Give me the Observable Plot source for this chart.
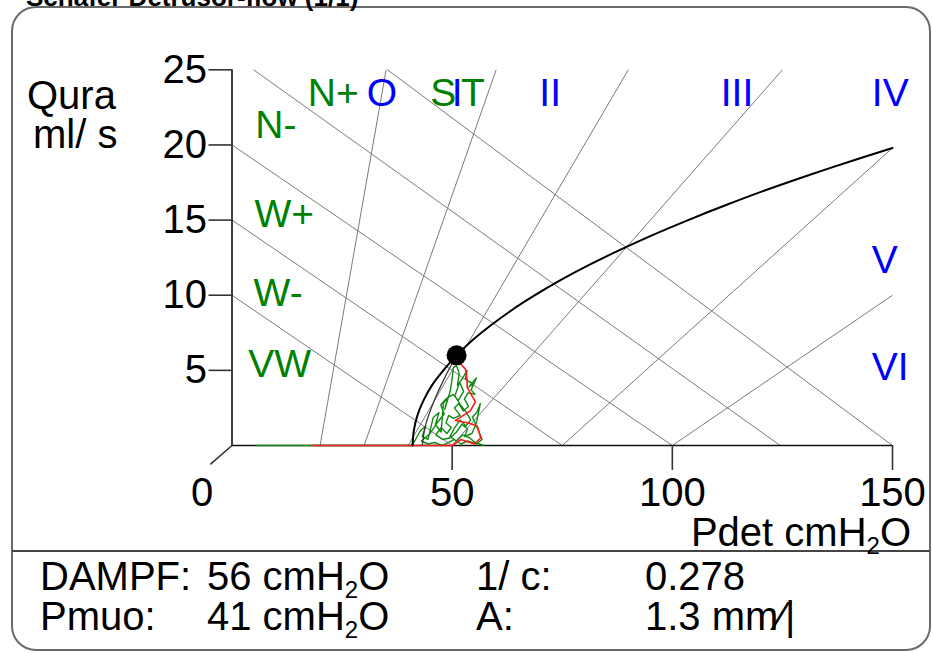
<!DOCTYPE html>
<html><head><meta charset="utf-8">
<script src="https://cdn.jsdelivr.net/npm/d3@7"></script>
<script src="https://cdn.jsdelivr.net/npm/@observablehq/plot@0.6"></script>
<style>
body{margin:0;background:#fff;}
#wrap{position:relative;width:933px;height:653px;overflow:hidden;}
</style></head>
<body><div id="wrap"></div>
<script>
// ---- data ----
const P_TICKS = [50, 100, 150];
const Q_TICKS = [5, 10, 15, 20, 25];

// contractility boundary lines (descending)
const contrP1 = [0, 0, 0, 4.9, 35.3];
const contrQ1 = [10, 15, 20, 25, 25];
const contrP2 = [50, 75, 100, 124.5, 150];
const contrQ2 = [0, 0, 0, 0, 0];

// obstruction grade boundary lines (ascending)
const obstrP1 = [20, 30, 40, 50, 75, 100];
const obstrQ1 = [0, 0, 0, 0, 0, 0];
const obstrP2 = [35, 60, 90, 125, 150, 150];
const obstrQ2 = [25, 25, 25, 25, 19.8, 10];

// PURR curve
const purrQ = [0, 1, 2, 3, 4, 5, 6, 7, 8, 9, 10, 11, 12, 13, 14, 15, 16, 17, 18, 19, 19.8];
const purrP = [41, 41.3, 42.1, 43.5, 45.4, 48.0, 51.0, 54.6, 58.8, 63.5, 68.8, 74.6, 81.0, 88.0, 95.5, 103.6, 112.2, 121.3, 131.1, 141.4, 150];

// inner line from the Qmax point
const linP = [51, 48.3, 45.8, 44.0, 43.2];
const linQ = [6, 4.5, 2.9, 1.4, 0];

// Qmax point
const qmaxP = [51];
const qmaxQ = [6];

// raw trace (green)
const greenP = [5.5,40.8,41.5,42.8,44,43.2,44.5,45.7,47,46.2,47.5,48.0,49,48.3,49.6,50,50.3,51,51.6,51.2,52.2,53.4,53,54.8,53.8,55.5,54.3,55.2,53.6,52.8,53.7,52.5,51.5,50.5,51.8,50.3,49.2,48.6,49.8,48.8,47.5,46.3,47.8,49.5,51,52.2,53.5,52.8,54.5,55.5,56.4,55.6,54.6,55.8,56.8,55.5,53.5,52,50.5,49.2,47.8,46,44.5,43,45,46.8,48.2,47.4,48.6,50.2,51.4,52.6,51.7,50.6,51.9,53.2,54.2,53.1,51.8,50.4,49.5,50.9,52.4,54,55.2,57.2];
const greenQ = [0,0,0.3,1.0,1.3,0.6,0.4,1.86,2.2,1.4,0.9,2.8,3.2,2.4,3.66,4.5,5.2,5.3,4.8,4.0,4.4,5.0,4.4,4.1,3.9,4.5,3.7,3.4,3.5,3.1,2.6,2.3,2.8,2.5,2.0,1.8,2.0,1.5,1.2,0.8,1.2,0.7,0.4,0.5,0.9,1.4,1.1,0.6,0.8,1.5,2.8,2.2,1.9,1.1,0.4,0.1,0.3,0.1,0.4,0.2,0,0.2,0.1,0.3,0.8,1.6,2.1,2.7,3.1,3.4,3.0,3.6,4.2,3.3,2.7,2.2,1.7,1.3,1.7,1.1,0.6,0.3,0.7,0.5,0.2,0];

// smoothed trace (red)
const redP = [18.3,50,52,55,56.5,56,55.7,53.7,50.7,52,54.1,55.3,54.1,53.4,53.4,53.2,53,51.8,51.2];
const redQ = [0,0,0.4,0.1,0.5,1.0,1.3,1.5,1.66,1.9,2.3,2.9,3.5,3.9,4.3,4.8,5.1,5.46,5.6];

// region labels
const greenLabels = ["VW", "W-", "W+", "N-", "N+", "S", "T"];
const greenLabP = [3.7, 4.9, 5.1, 5.3, 17.2, 45.0, 52.0];
const greenLabQ = [5.4, 10.1, 15.4, 21.3, 23.4, 23.4, 23.4];
const blueLabels = ["O", "I", "II", "III", "IV", "V", "VI"];
const blueLabP = [30.6, 49.9, 69.8, 111.0, 145.3, 145.3, 145.3];
const blueLabQ = [23.4, 23.4, 23.4, 23.4, 23.4, 12.3, 5.2];

// ---- build tables ----
const contr = contrP1.map((p, i) => ({p1: p, q1: contrQ1[i], p2: contrP2[i], q2: contrQ2[i]}));
const obstr = obstrP1.map((p, i) => ({p1: p, q1: obstrQ1[i], p2: obstrP2[i], q2: obstrQ2[i]}));
const purr = purrQ.map((q, i) => ({p: purrP[i], q}));
const lin = linP.map((p, i) => ({p, q: linQ[i]}));
const green = greenP.map((p, i) => ({p, q: greenQ[i]}));
const red = redP.map((p, i) => ({p, q: redQ[i]}));
const qmax = qmaxP.map((p, i) => ({p, q: qmaxQ[i]}));
const gLab = greenLabels.map((t, i) => ({t, p: greenLabP[i], q: greenLabQ[i]}));
const bLab = blueLabels.map((t, i) => ({t, p: blueLabP[i], q: blueLabQ[i]}));

const FONT = '"Liberation Sans", Arial, Helvetica, sans-serif';
const tickShape = {draw(ctx, l) { ctx.moveTo(0, 0); ctx.lineTo(0, -l); }};

const chart = Plot.plot({
  width: 933, height: 653,
  marginLeft: 231.5, marginRight: 41, marginTop: 69.3, marginBottom: 208,
  x: {domain: [0, 150]},
  y: {domain: [0, 25]},
  style: {fontFamily: FONT, fontSize: "40px", color: "#000", background: "transparent", overflow: "visible"},
  marks: [
    Plot.link(contr, {x1: "p1", y1: "q1", x2: "p2", y2: "q2", stroke: "#7a7a7a", strokeWidth: 1}),
    Plot.link(obstr, {x1: "p1", y1: "q1", x2: "p2", y2: "q2", stroke: "#7a7a7a", strokeWidth: 1}),
    Plot.ruleX([0], {y1: 0, y2: 25, stroke: "#111", strokeWidth: 1.6}),
    Plot.ruleY([0], {x1: 0, x2: 150, stroke: "#111", strokeWidth: 1.6}),
    Plot.axisY({ticks: Q_TICKS, tickSize: 23, tickPadding: 2, fontSize: 40, label: null, strokeWidth: 1.6, stroke: "#333"}),
    Plot.axisX({ticks: P_TICKS, tickSize: 25, tickPadding: 7, fontSize: 40, label: null, strokeWidth: 1.6, stroke: "#333"}),
    Plot.vector([{p: 0, q: 0}], {x: "p", y: "q", rotate: 229, length: 28, anchor: "start", shape: tickShape, stroke: "#333", strokeWidth: 1.6}),
    Plot.text([{p: 0, q: 0}], {x: "p", y: "q", text: () => "0", dx: -30, dy: 32, lineAnchor: "top", fontSize: 40, fill: "#000"}),
    Plot.line(green, {x: "p", y: "q", stroke: "#128a12", strokeWidth: 1.4}),
    Plot.line(red, {x: "p", y: "q", stroke: "#ff1a1a", strokeWidth: 1.6}),
    Plot.line(lin, {x: "p", y: "q", stroke: "#333", strokeWidth: 1.2, curve: "catmull-rom"}),
    Plot.line(purr, {x: "p", y: "q", stroke: "#000", strokeWidth: 2, curve: "catmull-rom"}),
    Plot.dot(qmax, {x: "p", y: "q", r: 10, fill: "#000"}),
    Plot.text(gLab, {x: "p", y: "q", text: "t", textAnchor: "start", fill: "#008000", fontSize: 39}),
    Plot.text(bLab, {x: "p", y: "q", text: "t", textAnchor: "start", fill: "#0000ff", fontSize: 39})
  ]
});

document.getElementById("wrap").appendChild(chart);

// ---- decorations: frame, title, axis titles, bottom table ----
const svg = d3.select(chart);
const deco = svg.append("g").attr("font-family", FONT).attr("fill", "#000").attr("text-anchor", "start");
deco.append("rect").attr("x", 12).attr("y", 7).attr("width", 918).attr("height", 643)
  .attr("rx", 24).attr("fill", "none").attr("stroke", "#6a6a6a").attr("stroke-width", 2);
deco.append("line").attr("x1", 12).attr("x2", 930).attr("y1", 551).attr("y2", 551)
  .attr("stroke", "#444").attr("stroke-width", 2);
deco.append("text").attr("x", 26).attr("y", 6).attr("font-size", 26).attr("font-weight", "bold")
  .attr("text-anchor", "start").text("Schäfer Detrusor-flow (1/1)");

function txt(x, y, parts, anchor) {
  const t = deco.append("text").attr("x", x).attr("y", y).attr("font-size", 40).attr("text-anchor", anchor || "start");
  parts.forEach(pt => {
    if (typeof pt === "string") t.append("tspan").text(pt);
    else t.append("tspan").attr("font-size", pt.fs || 40).attr("dy", pt.dy).text(pt.s);
  });
}
const H2O = [{s: "2", dy: 8, fs: 24}, {s: "O", dy: -8, fs: 40}];
txt(27, 109, ["Qura"]);
txt(33, 148, ["ml/ s"]);
txt(911, 546, ["Pdet cmH", ...H2O], "end");
txt(40, 590, ["DAMPF:"]);
txt(207, 590, ["56 cmH", ...H2O]);
txt(476, 590, ["1/ c:"]);
txt(645, 590, ["0.278"]);
txt(40, 630, ["Pmuo:"]);
txt(207, 630, ["41 cmH", ...H2O]);
txt(476, 630, ["A:"]);
txt(645, 630, ["1.3 mm\u2044|"]);
</script>
</body></html>
